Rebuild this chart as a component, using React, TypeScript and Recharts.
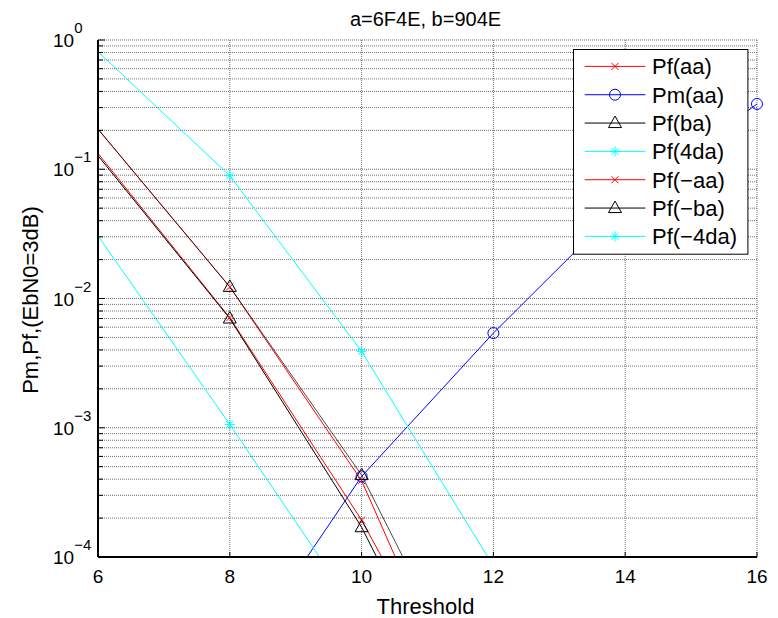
import React from 'react';
import { ComposedChart, Line, Scatter, XAxis, YAxis, CartesianGrid, Customized, Legend } from 'recharts';

// ---- data ----
const thresholds = [4, 8, 10, 12, 14, 16];
const pfAA = [3.4, 0.0123, 3.9e-4, 1.9e-6, 1e-8, 1e-10];
const pmAA = [1e-9, 1.3e-5, 4.2e-4, 5.4e-3, 0.056, 0.32];
const pfBA = [3.4, 0.0123, 4.3e-4, 4.1e-6, 2e-8, 1e-10];
const pf4DA = [7.4, 0.089, 3.9e-3, 8.5e-5, 1e-6, 5e-9];
const pfNegAA = [2.48, 0.0071, 1.93e-4, 2.6e-6, 1e-8, 1e-11];
const pfNegBA = [2.32, 0.007, 1.7e-4, 1.6e-6, 5e-9, 1e-11];
const pfNeg4DA = [0.88, 1.06e-3, 3.3e-5, 3e-7, 1e-9, 1e-11];

const seriesNames = ['Pf(aa)', 'Pm(aa)', 'Pf(ba)', 'Pf(4da)', 'Pf(−aa)', 'Pf(−ba)', 'Pf(−4da)'];
const xTicks = [6, 8, 10, 12, 14, 16];
const decadeTicks = [1e-4, 1e-3, 1e-2, 1e-1, 1];
const decadeExponents = ['−4', '−3', '−2', '−1', '0'];
const titleText = 'a=6F4E, b=904E';
const xLabel = 'Threshold';
const yLabel = 'Pm,Pf,(EbN0=3dB)';

const X_DOMAIN: [number, number] = [6, 16];
const Y_DOMAIN: [number, number] = [1e-4, 1];

const minorTicks: number[] = [];
for (let d = -4; d < 0; d++) {
  for (let k = 1; k <= 9; k++) minorTicks.push(Number((k * Math.pow(10, d)).toPrecision(6)));
}
minorTicks.push(1);

type MarkerKind = 'x' | 'o' | '^' | '*';
const seriesDefs: { key: string; name: string; values: number[]; color: string; marker: MarkerKind; opacity: number }[] = [
  { key: 's0', name: seriesNames[0], values: pfAA, color: '#ff0000', marker: 'x', opacity: 1 },
  { key: 's1', name: seriesNames[1], values: pmAA, color: '#0000ff', marker: 'o', opacity: 1 },
  { key: 's2', name: seriesNames[2], values: pfBA, color: '#000000', marker: '^', opacity: 0.7 },
  { key: 's3', name: seriesNames[3], values: pf4DA, color: '#00ffff', marker: '*', opacity: 1 },
  { key: 's4', name: seriesNames[4], values: pfNegAA, color: '#ff0000', marker: 'x', opacity: 1 },
  { key: 's5', name: seriesNames[5], values: pfNegBA, color: '#000000', marker: '^', opacity: 1 },
  { key: 's6', name: seriesNames[6], values: pfNeg4DA, color: '#00ffff', marker: '*', opacity: 1 },
];

const rows = thresholds.map((t, i) => {
  const r: any = { t };
  seriesDefs.forEach((s) => (r[s.key] = s.values[i]));
  return r;
});

const markerData = seriesDefs.map((s) =>
  thresholds
    .map((t, i) => ({ t, v: s.values[i] }))
    .filter((p) => p.t >= X_DOMAIN[0] && p.t <= X_DOMAIN[1] && p.v >= Y_DOMAIN[0] && p.v <= Y_DOMAIN[1])
);

const NUM_FONT = "'Liberation Sans', Arial, sans-serif";

const Marker = ({ kind, cx, cy, color }: { kind: MarkerKind; cx: number; cy: number; color: string }) => {
  if (cx == null || cy == null) return <g />;
  if (kind === 'x') {
    const s = 3.5;
    return (
      <g stroke={color} strokeWidth={1}>
        <line x1={cx - s} y1={cy - s} x2={cx + s} y2={cy + s} />
        <line x1={cx - s} y1={cy + s} x2={cx + s} y2={cy - s} />
      </g>
    );
  }
  if (kind === 'o') return <circle cx={cx} cy={cy} r={5.5} fill="none" stroke={color} strokeWidth={1} />;
  if (kind === '^')
    return (
      <polygon
        points={`${cx},${cy - 7} ${cx - 6.5},${cy + 4.5} ${cx + 6.5},${cy + 4.5}`}
        fill="none"
        stroke={color}
        strokeWidth={1}
      />
    );
  const a = 5;
  const b = 3.6;
  return (
    <g stroke={color} strokeWidth={1}>
      <line x1={cx - a} y1={cy} x2={cx + a} y2={cy} />
      <line x1={cx} y1={cy - a} x2={cx} y2={cy + a} />
      <line x1={cx - b} y1={cy - b} x2={cx + b} y2={cy + b} />
      <line x1={cx - b} y1={cy + b} x2={cx + b} y2={cy - b} />
    </g>
  );
};

const decadeIndex = (v: number) => decadeTicks.findIndex((d) => Math.abs(Math.log10(d) - Math.log10(v)) < 1e-6);

const LeftTick = (props: any) => {
  const { x, y, payload } = props;
  const idx = decadeIndex(payload.value);
  const major = idx >= 0;
  return (
    <g>
      <line x1={x} x2={x + (major ? 7 : 5)} y1={y} y2={y} stroke="#000" strokeWidth={1} />
      {major && (
        <text x={x - 45} y={y + 7} fontFamily={NUM_FONT} fontSize={19} fill="#000">
          10
          <tspan dy={-14} fontSize={15}>
            {decadeExponents[idx]}
          </tspan>
        </text>
      )}
    </g>
  );
};

const RightTick = (props: any) => {
  const { x, y, payload } = props;
  const major = decadeIndex(payload.value) >= 0;
  return <line x1={x} x2={x - (major ? 7 : 5)} y1={y} y2={y} stroke="#000" strokeWidth={1} />;
};

const BottomTick = (props: any) => {
  const { x, y, payload } = props;
  return (
    <g>
      <line x1={x} x2={x} y1={y} y2={y - 5} stroke="#000" strokeWidth={1} />
      <text x={x} y={y + 26} textAnchor="middle" fontFamily={NUM_FONT} fontSize={19} fill="#000">
        {payload.value}
      </text>
    </g>
  );
};

const TopTick = (props: any) => {
  const { x, y } = props;
  return <line x1={x} x2={x} y1={y} y2={y + 5} stroke="#000" strokeWidth={1} />;
};

const Labels = () => (
  <g>
    <text x={417.5} y={18} textAnchor="middle" fontFamily={NUM_FONT} fontSize={20} fill="#000">
      {titleText}
    </text>
    <text x={417.5} y={606} textAnchor="middle" fontFamily={NUM_FONT} fontSize={22} fill="#000">
      {xLabel}
    </text>
    <text
      x={29.5}
      y={292}
      textAnchor="middle"
      transform="rotate(-90, 29.5, 292)"
      fontFamily={NUM_FONT}
      fontSize={22}
      fill="#000"
    >
      {yLabel}
    </text>
  </g>
);

const LEG_W = 175;
const LEG_H = 205;
const LegendBox = () => {
  const rowY0 = 17.4;
  const rowStep = 28.33;
  return (
    <svg width={LEG_W + 1} height={LEG_H + 1} style={{ display: 'block' }}>
      <rect x={0.5} y={0.5} width={LEG_W - 0.6} height={LEG_H - 0.3} fill="#fff" stroke="#000" strokeWidth={1} />
      {seriesDefs.map((s, i) => {
        const y = rowY0 + i * rowStep;
        return (
          <g key={s.key}>
            <line x1={11.7} x2={72.4} y1={y} y2={y} stroke={s.color} strokeWidth={1} />
            <Marker kind={s.marker} cx={42} cy={y} color={s.color} />
            <text x={79} y={y + 8} fontFamily={NUM_FONT} fontSize={22} fill="#000">
              {s.name}
            </text>
          </g>
        );
      })}
    </svg>
  );
};

export default function App() {
  return (
    <ComposedChart width={770} height={610} data={rows} margin={{ top: 32, right: 21, bottom: 0, left: 0 }}>
      <CartesianGrid stroke="#6e6e6e" strokeDasharray="1 1" ticks={minorTicks as any} />
      <CartesianGrid
        stroke="#444444"
        strokeDasharray="1 1"
        vertical={false}
        horizontalCoordinatesGenerator={(p: any) => {
          const sc = p?.yAxis?.scale;
          if (typeof sc !== 'function') return [];
          return decadeTicks.map((d) => sc(d));
        }}
      />
      <XAxis
        dataKey="t"
        type="number"
        domain={X_DOMAIN}
        allowDataOverflow
        ticks={xTicks}
        interval={0}
        height={61}
        tickSize={0}
        tickMargin={0}
        tickLine={false}
        tick={<BottomTick />}
        axisLine={{ stroke: '#000', strokeWidth: 2 }}
      />
      <XAxis
        xAxisId="top"
        orientation="top"
        dataKey="t"
        type="number"
        domain={X_DOMAIN}
        allowDataOverflow
        ticks={xTicks}
        interval={0}
        height={0}
        tickSize={0}
        tickMargin={0}
        tickLine={false}
        tick={<TopTick />}
        axisLine={{ stroke: '#000', strokeWidth: 1 }}
      />
      <YAxis
        type="number"
        scale="log"
        domain={Y_DOMAIN}
        allowDataOverflow
        ticks={minorTicks}
        interval={0}
        width={90}
        tickSize={0}
        tickMargin={0}
        tickLine={false}
        tick={<LeftTick />}
        axisLine={{ stroke: '#000', strokeWidth: 2 }}
      />
      <YAxis
        yAxisId="right"
        orientation="right"
        type="number"
        scale="log"
        domain={Y_DOMAIN}
        allowDataOverflow
        ticks={minorTicks}
        interval={0}
        width={0}
        tickSize={0}
        tickMargin={0}
        tickLine={false}
        tick={<RightTick />}
        axisLine={{ stroke: '#000', strokeWidth: 1 }}
      />
      <XAxis xAxisId="m" dataKey="t" type="number" domain={X_DOMAIN} hide />
      <YAxis yAxisId="m" dataKey="v" type="number" scale="log" domain={Y_DOMAIN} hide />
      {seriesDefs.map((s) => (
        <Line
          key={s.key}
          dataKey={s.key}
          name={s.name}
          type="linear"
          stroke={s.color}
          strokeOpacity={s.opacity}
          strokeWidth={1}
          dot={false}
          activeDot={false}
          isAnimationActive={false}
        />
      ))}
      {seriesDefs.map((s, i) => (
        <Scatter
          key={'m' + s.key}
          data={markerData[i]}
          dataKey="v"
          xAxisId="m"
          yAxisId="m"
          isAnimationActive={false}
          shape={(p: any) => <Marker kind={s.marker} cx={p.cx} cy={p.cy} color={s.color} />}
        />
      ))}
      <Customized component={Labels} />
      <Legend
        layout="vertical"
        align="center"
        verticalAlign="middle"
        content={() => <LegendBox />}
        wrapperStyle={{ position: 'absolute', left: 565, top: 41, width: LEG_W + 1, height: LEG_H + 1, margin: 0, padding: 0 }}
      />
    </ComposedChart>
  );
}
